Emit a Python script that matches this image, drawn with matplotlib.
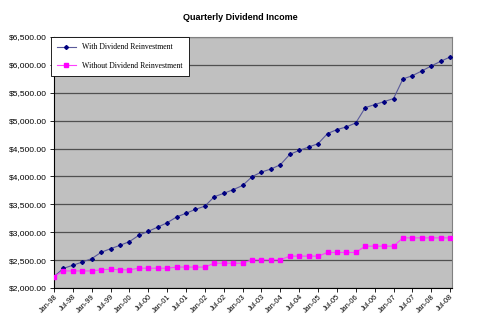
import numpy as np
import matplotlib
matplotlib.use("Agg")
import matplotlib.pyplot as plt

# Datos trimestrales, Jan-98 .. Jul-08
with_reinv = [2205, 2352, 2408, 2466, 2527, 2640, 2705, 2765, 2832,
              2945, 3017, 3092, 3170, 3274, 3340, 3410, 3468, 3637,
              3697, 3763, 3838, 3996, 4079, 4133, 4210, 4396, 4467,
              4527, 4588, 4769, 4840, 4888, 4960, 5234, 5288, 5342,
              5396, 5748, 5807, 5891, 5981, 6064, 6142]
without_reinv = [2205, 2306, 2306, 2306, 2306, 2326, 2338, 2326, 2326,
                 2355, 2355, 2355, 2355, 2375, 2375, 2375, 2375, 2445,
                 2445, 2445, 2445, 2506, 2506, 2506, 2506, 2571, 2571,
                 2571, 2571, 2637, 2637, 2637, 2637, 2750, 2750, 2750,
                 2750, 2899, 2899, 2899, 2899, 2899, 2899]
tick_labels = ['Jan-98', 'Jul-98', 'Jan-99', 'Jul-99', 'Jan-00', 'Jul-00',
               'Jan-01', 'Jul-01', 'Jan-02', 'Jul-02', 'Jan-03', 'Jul-03',
               'Jan-04', 'Jul-04', 'Jan-05', 'Jul-05', 'Jan-06', 'Jul-06',
               'Jan-07', 'Jul-07', 'Jan-08', 'Jul-08']

x = np.arange(len(with_reinv))

fig = plt.figure(figsize=(4.8, 3.28), dpi=100)
ax = fig.add_axes([54 / 480, 1 - 288 / 328, 398 / 480, 251 / 328])
ax.set_facecolor('#c0c0c0')

ax.plot(x, with_reinv, color='#5a5a9a', linewidth=0.8, marker='D',
        markersize=2.0, markerfacecolor='#000080', markeredgecolor='#000080',
        label='With Dividend Reinvestment', zorder=3)
ax.plot(x, without_reinv, color='#ff40ff', linewidth=0.8, marker='s',
        markersize=2.3, markerfacecolor='#ff00ff', markeredgecolor='#ff00ff',
        label='Without Dividend Reinvestment', zorder=3)

ax.set_xlim(0, 42.2)
ax.set_ylim(2000, 6500)
ax.set_yticks(np.arange(2000, 6501, 500))
ax.set_yticklabels(['${:,.2f}'.format(v) for v in np.arange(2000, 6501, 500)],
                   fontsize=6.0, family='Liberation Sans')
ax.yaxis.grid(True, color='#505050', linewidth=0.9)
ax.set_axisbelow(True)

ax.set_xticks(x[::2])
ax.set_xticklabels(tick_labels, rotation=45, ha='right', rotation_mode='anchor',
                   fontsize=5.3, family='Liberation Sans')
ax.tick_params(axis='x', length=3, width=0.6, pad=1)
ax.tick_params(axis='y', length=3, width=0.6, pad=2)

for side in ['top', 'right']:
    ax.spines[side].set_color('#808080')
for side in ['left', 'bottom']:
    ax.spines[side].set_color('#000000')
    ax.spines[side].set_linewidth(0.8)

fig.text(0.5, 1 - 17 / 328, 'Quarterly Dividend Income', ha='center',
         va='center', fontsize=6.5, fontweight='bold', family='Liberation Sans')

leg = ax.legend(loc='upper left', bbox_to_anchor=(-0.008, 1.0),
                prop={'family': 'Liberation Serif', 'size': 5.6},
                frameon=True, fancybox=False, edgecolor='#000000',
                framealpha=1, borderpad=0.8, labelspacing=1.4,
                handlelength=2.4, borderaxespad=0)
leg.get_frame().set_linewidth(0.6)

fig.savefig('out.png', dpi=100)
